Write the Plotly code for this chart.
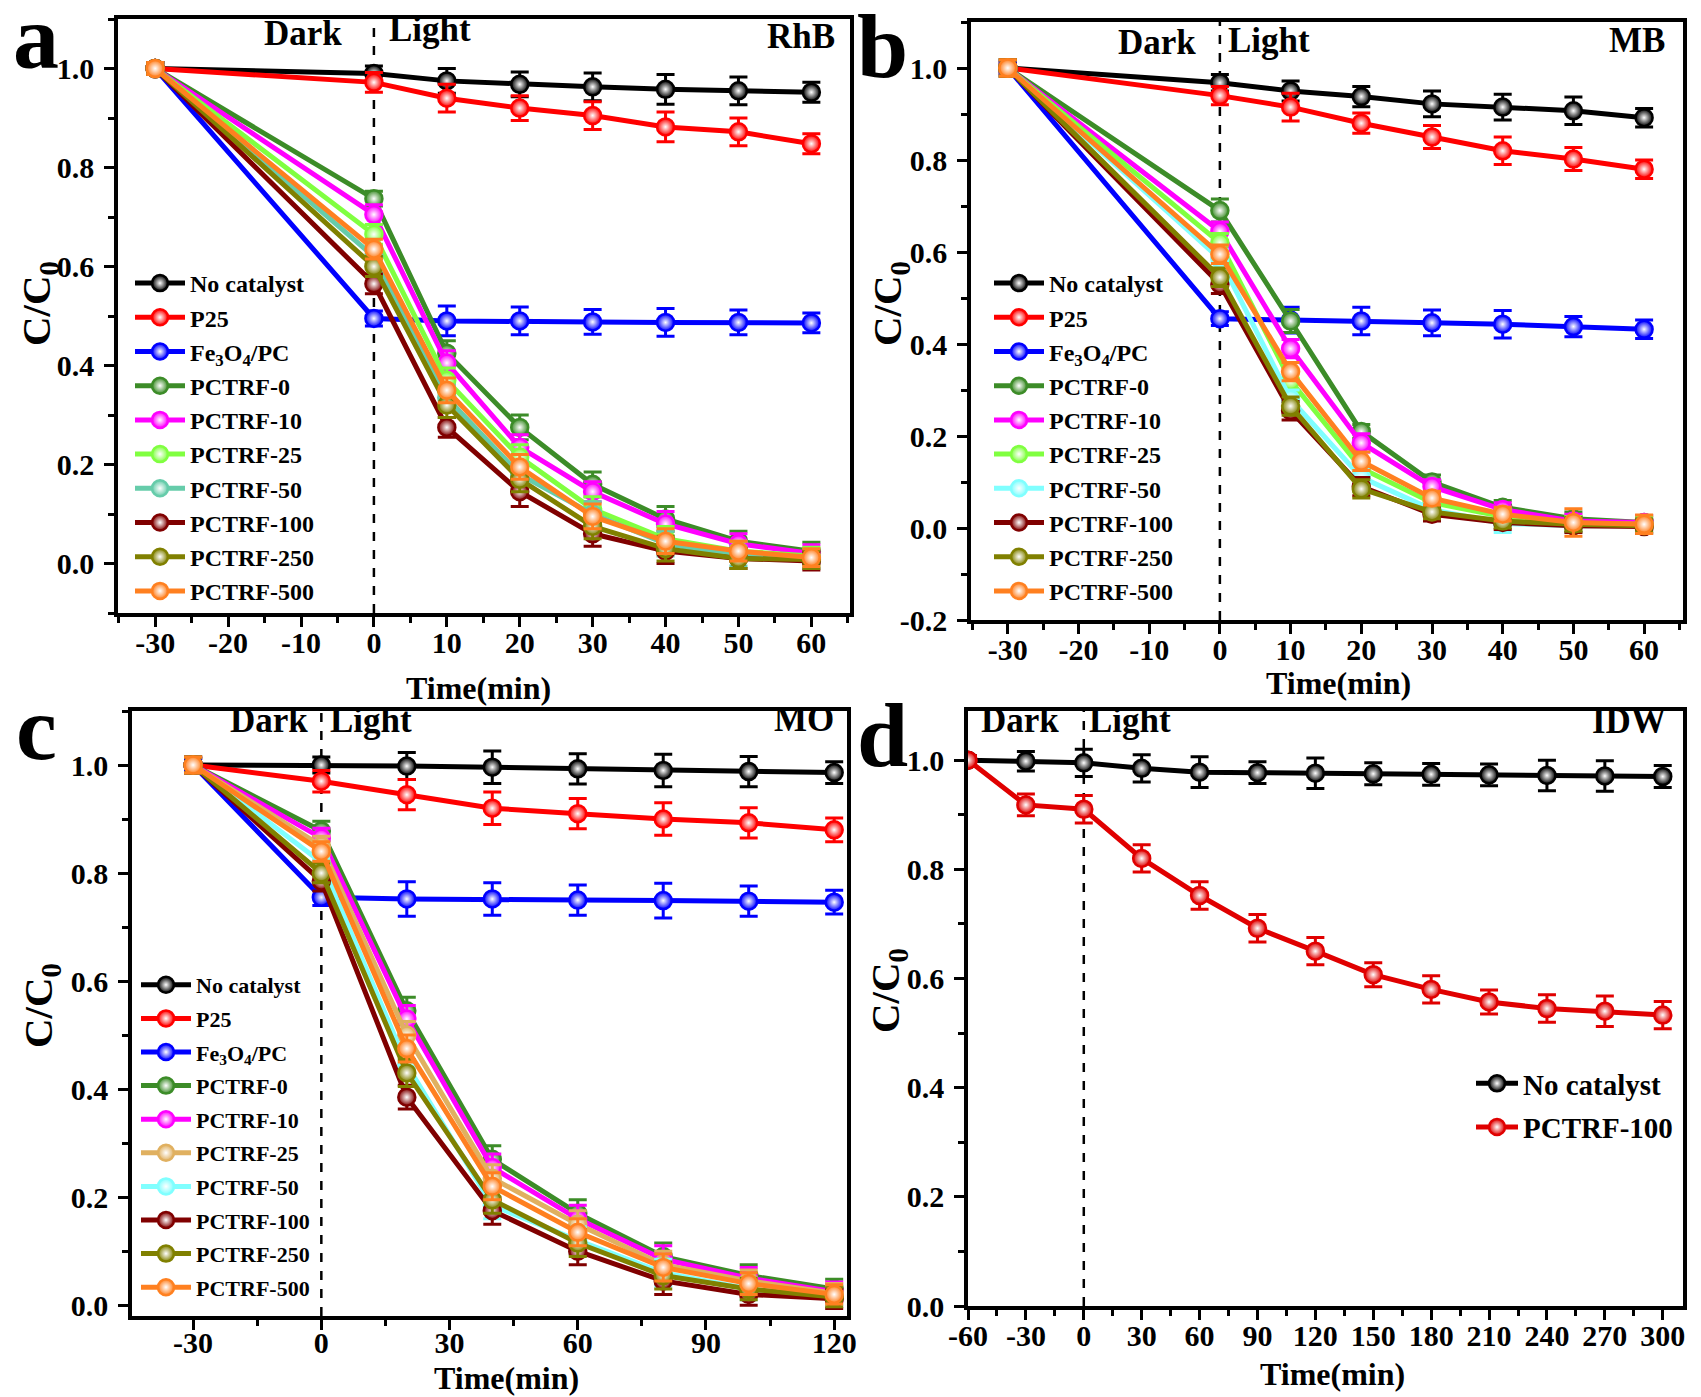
import plotly.graph_objects as go
from plotly.subplots import make_subplots

W, H = 1701, 1397

SERIES = ["No catalyst", "P25", "Fe<sub>3</sub>O<sub>4</sub>/PC", "PCTRF-0", "PCTRF-10",
          "PCTRF-25", "PCTRF-50", "PCTRF-100", "PCTRF-250", "PCTRF-500"]

COLORS_RHB = ["#000000", "#ff0000", "#0000ff", "#3c8c28", "#ff00ff",
              "#80ff40", "#66ccaa", "#800000", "#808000", "#ff8020"]
COLORS_MB = ["#000000", "#ff0000", "#0000ff", "#3c8c28", "#ff00ff",
             "#80ff40", "#80ffff", "#800000", "#808000", "#ff8020"]
COLORS_MO = ["#000000", "#ff0000", "#0000ff", "#3c8c28", "#ff00ff",
             "#e0b060", "#80ffff", "#800000", "#808000", "#ff8020"]

# (a) RhB
TIME_RHB = [-30, 0, 10, 20, 30, 40, 50, 60]
RHB = [
    [1.0, 0.990, 0.975, 0.968, 0.963, 0.958, 0.955, 0.952],
    [1.0, 0.972, 0.940, 0.920, 0.905, 0.882, 0.872, 0.848],
    [1.0, 0.495, 0.490, 0.490, 0.488, 0.487, 0.487, 0.486],
    [1.0, 0.737, 0.425, 0.275, 0.160, 0.090, 0.045, 0.025],
    [1.0, 0.705, 0.405, 0.235, 0.145, 0.080, 0.040, 0.020],
    [1.0, 0.665, 0.370, 0.215, 0.110, 0.050, 0.025, 0.015],
    [1.0, 0.620, 0.335, 0.180, 0.100, 0.040, 0.015, 0.010],
    [1.0, 0.565, 0.275, 0.145, 0.060, 0.025, 0.010, 0.005],
    [1.0, 0.600, 0.320, 0.170, 0.075, 0.030, 0.010, 0.008],
    [1.0, 0.635, 0.350, 0.195, 0.095, 0.045, 0.025, 0.012],
]
RHB_ERR = [
    [0.012, 0.015, 0.025, 0.025, 0.028, 0.030, 0.028, 0.020],
    [0.012, 0.020, 0.028, 0.025, 0.028, 0.030, 0.028, 0.020],
    [0.012, 0.015, 0.030, 0.028, 0.025, 0.028, 0.025, 0.020],
    [0.012, 0.015, 0.025, 0.025, 0.025, 0.025, 0.020, 0.018],
    [0.012, 0.020, 0.025, 0.025, 0.020, 0.025, 0.020, 0.018],
    [0.012, 0.020, 0.025, 0.025, 0.025, 0.025, 0.020, 0.018],
    [0.012, 0.020, 0.025, 0.025, 0.025, 0.025, 0.020, 0.018],
    [0.012, 0.020, 0.020, 0.030, 0.025, 0.025, 0.020, 0.018],
    [0.012, 0.020, 0.025, 0.025, 0.025, 0.025, 0.020, 0.018],
    [0.012, 0.020, 0.025, 0.025, 0.025, 0.025, 0.020, 0.018],
]

# (b) MB
TIME_MB = [-30, 0, 10, 20, 30, 40, 50, 60]
MB = [
    [1.0, 0.968, 0.950, 0.938, 0.922, 0.915, 0.907, 0.892],
    [1.0, 0.940, 0.915, 0.880, 0.850, 0.820, 0.802, 0.780],
    [1.0, 0.455, 0.452, 0.450, 0.446, 0.443, 0.438, 0.432],
    [1.0, 0.690, 0.450, 0.210, 0.100, 0.045, 0.020, 0.012],
    [1.0, 0.645, 0.390, 0.185, 0.090, 0.040, 0.015, 0.012],
    [1.0, 0.620, 0.320, 0.130, 0.055, 0.025, 0.010, 0.008],
    [1.0, 0.585, 0.280, 0.110, 0.040, 0.010, 0.005, 0.005],
    [1.0, 0.530, 0.255, 0.090, 0.030, 0.012, 0.005, 0.003],
    [1.0, 0.545, 0.265, 0.085, 0.035, 0.015, 0.008, 0.005],
    [1.0, 0.595, 0.340, 0.145, 0.065, 0.030, 0.012, 0.008],
]
MB_ERR = [
    [0.012, 0.018, 0.022, 0.022, 0.028, 0.028, 0.030, 0.020],
    [0.012, 0.020, 0.030, 0.022, 0.025, 0.030, 0.025, 0.020],
    [0.012, 0.015, 0.028, 0.030, 0.028, 0.030, 0.022, 0.020],
    [0.018, 0.025, 0.025, 0.015, 0.015, 0.015, 0.015, 0.015],
    [0.018, 0.020, 0.020, 0.020, 0.015, 0.015, 0.015, 0.015],
    [0.018, 0.020, 0.020, 0.020, 0.015, 0.015, 0.015, 0.015],
    [0.018, 0.020, 0.020, 0.020, 0.015, 0.020, 0.015, 0.015],
    [0.018, 0.020, 0.020, 0.020, 0.015, 0.015, 0.015, 0.015],
    [0.018, 0.020, 0.020, 0.020, 0.015, 0.015, 0.015, 0.015],
    [0.018, 0.020, 0.020, 0.020, 0.015, 0.015, 0.030, 0.020],
]

# (c) MO
TIME_MO = [-30, 0, 20, 40, 60, 80, 100, 120]
MO = [
    [1.0, 1.000, 0.998, 0.996, 0.993, 0.990, 0.988, 0.986],
    [1.0, 0.970, 0.945, 0.920, 0.910, 0.900, 0.893, 0.880],
    [1.0, 0.755, 0.752, 0.752, 0.750, 0.749, 0.748, 0.746],
    [1.0, 0.878, 0.545, 0.270, 0.170, 0.090, 0.055, 0.030],
    [1.0, 0.865, 0.530, 0.255, 0.160, 0.085, 0.050, 0.025],
    [1.0, 0.850, 0.500, 0.235, 0.150, 0.075, 0.045, 0.022],
    [1.0, 0.820, 0.445, 0.185, 0.120, 0.060, 0.030, 0.018],
    [1.0, 0.785, 0.385, 0.175, 0.100, 0.045, 0.020, 0.012],
    [1.0, 0.800, 0.430, 0.195, 0.115, 0.055, 0.030, 0.015],
    [1.0, 0.840, 0.475, 0.220, 0.135, 0.070, 0.040, 0.020],
]
MO_ERR = [
    [0.012, 0.015, 0.025, 0.030, 0.028, 0.030, 0.028, 0.020],
    [0.012, 0.020, 0.028, 0.030, 0.028, 0.030, 0.028, 0.022],
    [0.012, 0.015, 0.032, 0.030, 0.028, 0.032, 0.028, 0.022],
    [0.015, 0.018, 0.025, 0.025, 0.025, 0.025, 0.020, 0.018],
    [0.015, 0.018, 0.025, 0.025, 0.025, 0.025, 0.020, 0.018],
    [0.015, 0.018, 0.025, 0.025, 0.025, 0.025, 0.020, 0.018],
    [0.015, 0.018, 0.025, 0.025, 0.025, 0.025, 0.020, 0.018],
    [0.015, 0.018, 0.022, 0.025, 0.025, 0.025, 0.020, 0.018],
    [0.015, 0.018, 0.025, 0.025, 0.025, 0.025, 0.020, 0.018],
    [0.015, 0.018, 0.025, 0.025, 0.025, 0.025, 0.020, 0.018],
]

# (d) IDW
IDW_SERIES = ["No catalyst", "PCTRF-100"]
IDW_COLORS = ["#000000", "#e00000"]
TIME_IDW = [-60, -30, 0, 30, 60, 90, 120, 150, 180, 210, 240, 270, 300]
IDW = [
    [1.0, 0.998, 0.995, 0.985, 0.978, 0.977, 0.976, 0.975, 0.974, 0.973, 0.972, 0.971, 0.970],
    [1.0, 0.918, 0.910, 0.820, 0.752, 0.692, 0.650, 0.607, 0.580, 0.557, 0.545, 0.540, 0.533],
]
IDW_ERR = [
    [0.008, 0.018, 0.025, 0.025, 0.028, 0.020, 0.028, 0.020, 0.020, 0.020, 0.028, 0.028, 0.020],
    [0.008, 0.020, 0.025, 0.025, 0.025, 0.025, 0.025, 0.022, 0.025, 0.022, 0.025, 0.028, 0.025],
]

DYES = ["RhB", "MB", "MO", "IDW"]
PANEL_LETTERS = ["a", "b", "c", "d"]

X_TICKS_AB = [-30, -20, -10, 0, 10, 20, 30, 40, 50, 60]
X_TICKS_C = [-30, 0, 30, 60, 90, 120]
X_TICKS_D = [-60, -30, 0, 30, 60, 90, 120, 150, 180, 210, 240, 270, 300]
Y_TICKS_ACD = [0.0, 0.2, 0.4, 0.6, 0.8, 1.0]
Y_TICKS_B = [-0.2, 0.0, 0.2, 0.4, 0.6, 0.8, 1.0]
LIGHT_ON = 0


def fx(p):
    return p / W


def fy(p):
    return 1 - p / H


FONT = "Liberation Serif"

fig = make_subplots(rows=2, cols=2)

panels = [
    (1, 1, TIME_RHB, RHB, RHB_ERR, SERIES, COLORS_RHB, "legend"),
    (1, 2, TIME_MB, MB, MB_ERR, SERIES, COLORS_MB, "legend2"),
    (2, 1, TIME_MO, MO, MO_ERR, SERIES, COLORS_MO, "legend3"),
    (2, 2, TIME_IDW, IDW, IDW_ERR, IDW_SERIES, IDW_COLORS, "legend4"),
]

for row, col, t, values, errs, names, colors, leg in panels:
    for i, (name, y, e, c) in enumerate(zip(names, values, errs, colors)):
        fig.add_trace(
            go.Scatter(
                x=t, y=y, name=name, mode="lines+markers",
                line=dict(color=c, width=5),
                marker=dict(symbol="circle", size=17, color=c,
                            gradient=dict(type="radial", color="#ffffff"),
                            line=dict(color=c, width=2.5)),
                error_y=dict(type="data", array=e, visible=True, color=c,
                             thickness=3, width=9),
                legend=leg, legendgroup=f"{leg}-{i}",
            ),
            row=row, col=col,
        )
    fig.add_vline(x=LIGHT_ON, row=row, col=col, layer="below",
                  line=dict(color="black", width=2.5, dash="dash"))

# plot areas in pixels: left, right, top, bottom
boxes = [(110, 842, 11, 605), (963, 1675, 14, 612), (124, 839, 703, 1308), (960, 1675, 703, 1298)]
x_ranges = [[-35.1, 65.3], [-35.2, 65.5], [-44.3, 123.0], [-60.0, 310.5]]
y_ranges = [[-0.1, 1.1], [-0.2, 1.1], [-0.02, 1.1], [0.0, 1.09]]
x_ticks = [X_TICKS_AB, X_TICKS_AB, X_TICKS_C, X_TICKS_D]
x_minor = [5, 5, 15, 15]
y_ticks = [Y_TICKS_ACD, Y_TICKS_B, Y_TICKS_ACD, Y_TICKS_ACD]
x_label_standoff = [-10, -10, -13, -10]

axis_style = dict(showline=True, linewidth=3.5, linecolor="black", mirror=True,
                  ticks="outside", ticklen=10, tickwidth=3, tickcolor="black",
                  showgrid=False, zeroline=False, automargin=False,
                  tickfont=dict(size=30, color="black"))

for k, (l, r, t_, b) in enumerate(boxes):
    sfx = "" if k == 0 else str(k + 1)
    fig.update_layout({
        "xaxis" + sfx: dict(axis_style, domain=[fx(l), fx(r)], range=x_ranges[k],
                            tickmode="array", tickvals=x_ticks[k],
                            ticktext=[str(v) for v in x_ticks[k]],
                            ticklabelstandoff=x_label_standoff[k],
                            minor=dict(tickmode="linear", tick0=0, dtick=x_minor[k],
                                       ticks="outside", ticklen=6, tickwidth=2.5,
                                       tickcolor="black")),
        "yaxis" + sfx: dict(axis_style, domain=[fy(b), fy(t_)], range=y_ranges[k],
                            tickmode="array", tickvals=y_ticks[k],
                            ticktext=[f"{v:.1f}" for v in y_ticks[k]],
                            ticklabelstandoff=4,
                            minor=dict(tickmode="linear", tick0=0, dtick=0.1,
                                       ticks="outside", ticklen=6, tickwidth=2.5,
                                       tickcolor="black")),
    })

legend_base = dict(xanchor="left", yanchor="top", bgcolor="rgba(0,0,0,0)",
                   borderwidth=0, traceorder="grouped")
fig.update_layout(
    legend=dict(legend_base, x=fx(122), y=fy(253), itemwidth=50,
                font=dict(size=24), tracegroupgap=0),
    legend2=dict(legend_base, x=fx(981), y=fy(253), itemwidth=50,
                 font=dict(size=24), tracegroupgap=0),
    legend3=dict(legend_base, x=fx(128), y=fy(956), itemwidth=50,
                 font=dict(size=22), tracegroupgap=2),
    legend4=dict(legend_base, x=fx(1463), y=fy(1050), itemwidth=42,
                 font=dict(size=29), tracegroupgap=3),
)

annotations = []


def add_text(text, x, y, size, xanchor="center", yanchor="middle", angle=0):
    annotations.append(dict(text=text, x=fx(x), y=fy(y), xref="paper", yref="paper",
                            showarrow=False, xanchor=xanchor, yanchor=yanchor,
                            textangle=angle, font=dict(size=size, color="black")))


# panel letters
for letter, (x, y) in zip(PANEL_LETTERS, [(28, 29), (874, 38), (28, 720), (874, 727)]):
    add_text(letter, x, y, 92)

# Dark / Light and dye names
dark_light = [((336, 26), (379, 22)), ((1190, 34), (1218, 33)),
              ((302, 712), (320, 712)), ((1053, 712), (1079, 712))]
for (d, l) in dark_light:
    add_text("Dark", d[0], d[1], 35, xanchor="right")
    add_text("Light", l[0], l[1], 35, xanchor="left")
for dye, (x, y) in zip(DYES, [(829, 28), (1659, 32), (828, 711), (1660, 713)]):
    add_text(dye, x, y, 35, xanchor="right")

# axis titles
for x, y in [(31, 296), (882, 296), (33, 998), (880, 983)]:
    add_text("C/C<sub>0</sub>", x, y, 41, angle=-90)
for x, y in [(470, 680), (1330, 675), (498, 1370), (1324, 1366)]:
    add_text("Time(min)", x, y, 32)

fig.update_layout(
    annotations=annotations,
    width=W, height=H,
    margin=dict(l=0, r=0, t=0, b=0),
    paper_bgcolor="white", plot_bgcolor="white",
    font=dict(family=FONT, weight="bold", color="black"),
)

fig.write_html("out.html")
